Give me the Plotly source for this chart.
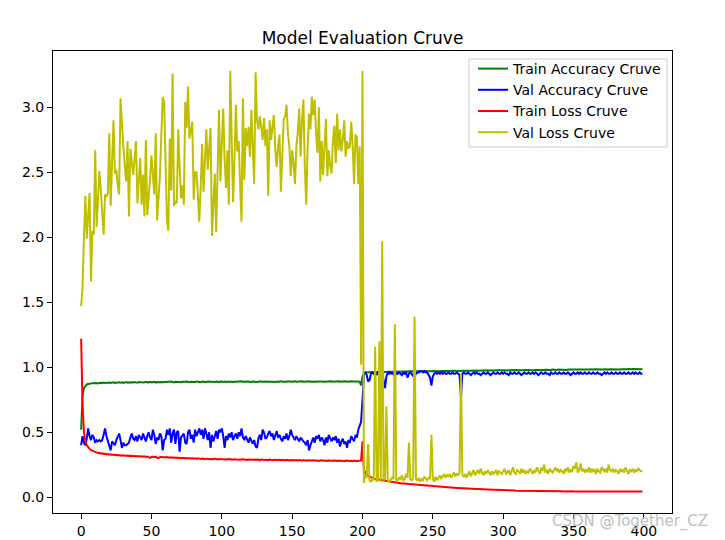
import plotly.graph_objects as go

train_acc = [
    0.52,0.78,0.84,0.86,0.868,0.872,0.875,0.874,0.878,0.877,0.880,0.879,0.876,0.881,0.880,0.878,0.882,0.879,0.881,0.880,
    0.883,0.879,0.882,0.884,0.880,0.883,0.881,0.885,0.882,0.884,0.880,0.883,0.886,0.882,0.884,0.881,0.885,0.883,0.887,0.884,
    0.882,0.886,0.884,0.887,0.883,0.885,0.888,0.884,0.886,0.883,0.887,0.885,0.889,0.884,0.886,0.888,0.885,0.887,0.884,0.889,
    0.886,0.888,0.885,0.887,0.890,0.886,0.884,0.888,0.886,0.889,0.887,0.885,0.889,0.886,0.888,0.890,0.887,0.885,0.889,0.887,
    0.888,0.886,0.890,0.887,0.889,0.885,0.888,0.890,0.886,0.889,0.887,0.891,0.888,0.886,0.889,0.887,0.890,0.888,0.886,0.890,
    0.887,0.889,0.891,0.886,0.888,0.890,0.887,0.889,0.886,0.891,0.888,0.890,0.887,0.889,0.892,0.888,0.890,0.887,0.889,0.891,
    0.888,0.886,0.890,0.888,0.891,0.887,0.889,0.892,0.888,0.890,0.887,0.889,0.891,0.888,0.890,0.892,0.889,0.887,0.891,0.889,
    0.890,0.888,0.892,0.889,0.891,0.887,0.890,0.892,0.889,0.891,0.888,0.890,0.893,0.889,0.891,0.888,0.890,0.892,0.889,0.891,
    0.888,0.890,0.892,0.889,0.891,0.893,0.890,0.888,0.892,0.890,0.891,0.889,0.892,0.890,0.888,0.891,0.893,0.890,0.892,0.889,
    0.891,0.893,0.890,0.892,0.889,0.891,0.893,0.890,0.892,0.889,0.891,0.890,0.893,0.891,0.889,0.892,0.890,0.891,0.888,0.86,
    0.93,0.952,0.958,0.960,0.962,0.961,0.963,0.962,0.964,0.963,0.965,0.964,0.963,0.965,0.964,0.966,0.965,0.964,0.966,0.965,
    0.967,0.966,0.965,0.967,0.966,0.968,0.967,0.966,0.968,0.967,0.969,0.968,0.967,0.969,0.968,0.967,0.969,0.970,0.968,0.969,
    0.970,0.969,0.968,0.970,0.969,0.971,0.970,0.969,0.971,0.970,0.972,0.971,0.970,0.972,0.971,0.970,0.972,0.973,0.971,0.972,
    0.973,0.972,0.971,0.973,0.972,0.974,0.973,0.972,0.974,0.973,0.972,0.974,0.975,0.973,0.974,0.975,0.974,0.973,0.975,0.974,
    0.975,0.976,0.974,0.975,0.976,0.975,0.974,0.976,0.975,0.977,0.976,0.975,0.977,0.976,0.975,0.977,0.978,0.976,0.977,0.976,
    0.977,0.978,0.976,0.977,0.978,0.977,0.979,0.978,0.977,0.978,0.979,0.978,0.977,0.979,0.978,0.980,0.979,0.978,0.979,0.978,
    0.980,0.979,0.978,0.980,0.979,0.980,0.981,0.979,0.980,0.979,0.981,0.980,0.979,0.981,0.980,0.982,0.980,0.981,0.980,0.982,
    0.981,0.980,0.982,0.981,0.982,0.980,0.982,0.981,0.983,0.982,0.981,0.982,0.983,0.981,0.982,0.983,0.982,0.981,0.983,0.982,
    0.983,0.982,0.984,0.982,0.983,0.984,0.983,0.982,0.984,0.983,0.984,0.983,0.985,0.983,0.984,0.983,0.985,0.984,0.983,0.985,
    0.984,0.985,0.984,0.983,0.985,0.984,0.986,0.984,0.985,0.986,0.984,0.985,0.986,0.985,0.984,0.986,0.985,0.986,0.985,0.986,
]

val_acc = [
    0.40,0.47,0.42,0.40,0.45,0.53,0.47,0.44,0.48,0.46,0.42,0.44,0.43,0.44,0.43,0.44,0.48,0.53,0.47,0.43,
    0.40,0.36,0.43,0.41,0.40,0.44,0.47,0.49,0.44,0.38,0.42,0.40,0.40,0.41,0.42,0.46,0.49,0.45,0.44,0.47,
    0.43,0.48,0.46,0.44,0.49,0.46,0.43,0.47,0.50,0.46,0.44,0.52,0.48,0.41,0.46,0.44,0.49,0.47,0.36,0.44,
    0.45,0.52,0.48,0.53,0.42,0.49,0.52,0.41,0.50,0.51,0.35,0.46,0.48,0.49,0.42,0.41,0.50,0.52,0.45,0.48,
    0.42,0.52,0.47,0.50,0.53,0.48,0.52,0.45,0.53,0.49,0.44,0.50,0.38,0.48,0.43,0.47,0.51,0.45,0.52,0.50,
    0.53,0.47,0.38,0.47,0.44,0.49,0.46,0.50,0.44,0.47,0.49,0.45,0.50,0.47,0.53,0.46,0.44,0.47,0.45,0.42,
    0.46,0.43,0.41,0.44,0.39,0.38,0.45,0.48,0.44,0.52,0.50,0.45,0.46,0.49,0.51,0.47,0.49,0.44,0.48,0.51,
    0.46,0.48,0.45,0.43,0.47,0.45,0.49,0.44,0.47,0.52,0.48,0.46,0.44,0.47,0.45,0.43,0.46,0.44,0.43,0.42,
    0.40,0.44,0.36,0.40,0.44,0.46,0.42,0.47,0.45,0.48,0.43,0.46,0.44,0.40,0.46,0.42,0.48,0.45,0.43,0.46,
    0.44,0.47,0.42,0.45,0.39,0.43,0.45,0.41,0.43,0.38,0.44,0.42,0.47,0.45,0.43,0.48,0.46,0.52,0.55,0.58,
    0.75,0.95,0.96,0.94,0.89,0.90,0.95,0.96,0.95,0.96,0.94,0.96,0.95,0.93,0.96,0.90,0.84,0.93,0.96,0.95,
    0.96,0.95,0.96,0.93,0.96,0.95,0.96,0.95,0.94,0.96,0.95,0.96,0.92,0.95,0.96,0.95,0.93,0.96,0.95,0.96,
    0.96,0.97,0.97,0.96,0.97,0.96,0.96,0.94,0.92,0.86,0.93,0.95,0.96,0.95,0.96,0.95,0.96,0.95,0.96,0.95,
    0.95,0.96,0.95,0.95,0.96,0.95,0.95,0.96,0.95,0.94,0.77,0.95,0.96,0.95,0.95,0.96,0.95,0.94,0.95,0.96,
    0.95,0.96,0.95,0.95,0.94,0.95,0.96,0.95,0.95,0.96,0.95,0.94,0.95,0.96,0.95,0.95,0.96,0.95,0.95,0.96,
    0.95,0.96,0.95,0.95,0.94,0.96,0.95,0.95,0.96,0.95,0.95,0.96,0.95,0.94,0.95,0.96,0.95,0.95,0.96,0.95,
    0.95,0.96,0.95,0.96,0.95,0.94,0.95,0.96,0.95,0.95,0.96,0.95,0.95,0.94,0.96,0.95,0.95,0.96,0.95,0.95,
    0.96,0.95,0.95,0.96,0.95,0.95,0.96,0.95,0.94,0.95,0.96,0.95,0.95,0.96,0.95,0.96,0.95,0.95,0.96,0.95,
    0.95,0.96,0.95,0.95,0.96,0.95,0.95,0.96,0.95,0.95,0.94,0.95,0.96,0.95,0.96,0.95,0.95,0.96,0.95,0.95,
    0.96,0.95,0.95,0.96,0.95,0.95,0.96,0.95,0.95,0.96,0.95,0.95,0.96,0.95,0.96,0.95,0.95,0.96,0.95,0.95,
]

train_loss = [
    1.22,0.72,0.50,0.43,0.40,0.38,0.372,0.363,0.358,0.352,0.348,0.345,0.340,0.342,0.336,0.338,0.333,0.335,0.330,0.332,
    0.328,0.331,0.326,0.329,0.324,0.327,0.322,0.325,0.320,0.323,0.319,0.322,0.318,0.321,0.317,0.320,0.316,0.319,0.315,0.318,
    0.314,0.317,0.313,0.316,0.312,0.315,0.311,0.314,0.305,0.303,0.310,0.313,0.309,0.312,0.304,0.302,0.309,0.312,0.307,0.310,
    0.306,0.309,0.305,0.308,0.304,0.307,0.303,0.306,0.302,0.305,0.301,0.304,0.300,0.303,0.299,0.302,0.298,0.301,0.297,0.300,
    0.296,0.299,0.295,0.300,0.297,0.294,0.298,0.295,0.293,0.297,0.294,0.296,0.292,0.295,0.293,0.297,0.292,0.294,0.291,0.295,
    0.292,0.294,0.290,0.293,0.291,0.295,0.290,0.292,0.289,0.293,0.290,0.292,0.288,0.291,0.289,0.293,0.288,0.290,0.287,0.291,
    0.289,0.292,0.288,0.290,0.287,0.291,0.289,0.286,0.290,0.288,0.291,0.287,0.289,0.286,0.290,0.288,0.285,0.289,0.287,0.290,
    0.286,0.288,0.285,0.289,0.287,0.284,0.288,0.286,0.283,0.287,0.285,0.288,0.284,0.286,0.283,0.287,0.285,0.282,0.286,0.284,
    0.281,0.285,0.283,0.286,0.282,0.284,0.281,0.285,0.283,0.280,0.284,0.282,0.285,0.281,0.283,0.280,0.284,0.282,0.279,0.283,
    0.281,0.284,0.280,0.282,0.279,0.283,0.281,0.278,0.282,0.280,0.283,0.279,0.281,0.278,0.282,0.280,0.277,0.281,0.279,0.282,
    0.43,0.21,0.19,0.175,0.165,0.158,0.152,0.148,0.145,0.141,0.139,0.136,0.133,0.131,0.129,0.127,0.125,0.123,0.121,0.120,
    0.118,0.116,0.115,0.113,0.112,0.110,0.109,0.108,0.106,0.105,0.104,0.103,0.101,0.100,0.099,0.098,0.097,0.096,0.095,0.094,
    0.093,0.092,0.091,0.090,0.089,0.088,0.087,0.086,0.085,0.085,0.084,0.083,0.082,0.081,0.080,0.080,0.079,0.078,0.077,0.077,
    0.076,0.075,0.075,0.074,0.073,0.073,0.072,0.071,0.071,0.070,0.069,0.069,0.068,0.068,0.067,0.067,0.066,0.065,0.065,0.064,
    0.064,0.063,0.063,0.062,0.062,0.061,0.061,0.060,0.060,0.059,0.059,0.058,0.058,0.057,0.057,0.057,0.056,0.056,0.055,0.055,
    0.055,0.054,0.054,0.053,0.053,0.053,0.052,0.052,0.052,0.051,0.051,0.051,0.050,0.050,0.050,0.049,0.049,0.049,0.049,0.048,
    0.048,0.048,0.048,0.048,0.047,0.047,0.047,0.047,0.047,0.047,0.047,0.046,0.046,0.046,0.046,0.046,0.046,0.046,0.046,0.046,
    0.046,0.046,0.046,0.045,0.046,0.045,0.046,0.045,0.045,0.046,0.045,0.045,0.045,0.046,0.045,0.045,0.045,0.044,0.045,0.045,
    0.045,0.044,0.045,0.045,0.044,0.045,0.045,0.044,0.045,0.044,0.045,0.044,0.045,0.044,0.044,0.045,0.044,0.045,0.044,0.044,
    0.045,0.044,0.044,0.045,0.044,0.044,0.045,0.044,0.044,0.045,0.044,0.044,0.045,0.044,0.044,0.045,0.044,0.044,0.045,0.044,
]

val_loss = [
    1.47,1.62,2.00,2.32,1.99,2.22,2.34,1.66,2.05,2.02,2.67,2.08,2.30,2.51,2.36,2.20,2.02,2.33,2.31,2.34,
    2.80,2.24,2.55,2.90,2.49,2.52,2.40,2.33,3.07,2.85,2.70,2.55,2.43,2.74,2.16,2.68,2.60,2.48,2.60,2.74,
    2.26,2.45,2.61,2.25,2.48,2.16,2.75,2.17,2.36,2.45,2.63,2.50,2.33,2.80,2.13,2.30,2.47,2.78,3.08,3.04,
    2.55,2.13,2.05,2.76,2.36,3.26,2.24,2.28,2.26,2.83,2.55,2.30,2.40,2.25,3.04,2.84,3.16,2.76,2.82,2.89,
    2.29,2.50,2.50,2.30,2.12,2.40,2.72,2.35,2.60,2.83,2.52,2.65,2.84,2.01,2.30,2.49,2.04,2.60,2.98,2.43,
    2.75,2.99,2.60,2.38,2.67,2.25,3.28,2.70,2.27,2.60,3.02,2.66,2.74,2.40,2.12,3.07,2.44,2.84,2.70,2.85,
    2.62,2.98,2.75,2.41,3.27,2.90,2.83,2.93,2.85,2.75,2.92,2.70,2.83,2.32,2.90,2.75,2.85,2.94,2.67,2.54,
    2.70,2.79,2.35,2.60,2.91,2.93,3.02,2.80,2.70,2.47,2.67,2.57,2.41,2.70,2.81,2.99,2.62,2.90,3.06,2.54,
    2.25,2.70,2.95,2.83,3.08,2.94,3.06,2.80,2.65,3.00,2.43,2.74,2.48,2.70,2.91,2.47,2.67,2.55,2.49,2.75,
    2.86,2.57,2.95,2.67,2.83,2.66,2.75,2.90,2.62,2.74,2.68,2.70,2.89,2.70,2.41,2.79,2.77,2.41,2.70,1.02,
    3.28,0.11,0.18,0.15,0.41,0.13,0.12,0.14,0.13,1.16,0.12,0.14,1.20,0.12,1.97,0.13,0.14,0.70,0.13,0.12,
    0.14,0.15,0.14,1.33,0.12,0.13,0.15,0.14,0.17,0.13,0.14,0.18,0.15,0.42,0.14,0.13,0.15,1.39,0.14,0.13,
    0.15,0.12,0.14,0.13,0.16,0.14,0.13,0.15,0.14,0.48,0.14,0.12,0.16,0.13,0.15,0.17,0.14,0.16,0.18,0.15,
    0.17,0.16,0.18,0.15,0.17,0.19,0.16,0.18,0.17,0.19,0.95,0.17,0.16,0.18,0.15,0.17,0.20,0.16,0.18,0.21,
    0.17,0.19,0.21,0.18,0.22,0.19,0.17,0.20,0.18,0.21,0.19,0.17,0.20,0.18,0.19,0.21,0.17,0.20,0.19,0.18,
    0.20,0.22,0.18,0.19,0.21,0.17,0.20,0.23,0.19,0.18,0.21,0.20,0.18,0.22,0.19,0.21,0.18,0.20,0.19,0.22,
    0.20,0.18,0.21,0.19,0.23,0.20,0.18,0.22,0.21,0.25,0.19,0.21,0.18,0.22,0.20,0.19,0.21,0.23,0.20,0.22,
    0.19,0.21,0.20,0.18,0.22,0.20,0.23,0.19,0.21,0.20,0.24,0.22,0.27,0.19,0.21,0.26,0.20,0.22,0.19,0.21,
    0.20,0.23,0.19,0.22,0.20,0.21,0.18,0.22,0.20,0.19,0.23,0.21,0.20,0.22,0.19,0.25,0.21,0.20,0.22,0.19,
    0.21,0.20,0.18,0.22,0.20,0.21,0.19,0.23,0.20,0.18,0.21,0.20,0.22,0.19,0.21,0.20,0.22,0.21,0.20,0.20,
]

series_names = ["Train Accuracy Cruve", "Val Accuracy Cruve", "Train Loss Cruve", "Val Loss Cruve"]
series_values = [train_acc, val_acc, train_loss, val_loss]
series_colors = ["#008000", "#0000ff", "#ff0000", "#bfbf00"]

x_ticks = [0, 50, 100, 150, 200, 250, 300, 350, 400]
y_ticks = [0.0, 0.5, 1.0, 1.5, 2.0, 2.5, 3.0]

fig = go.Figure()
for name, vals, color in zip(series_names, series_values, series_colors):
    fig.add_trace(go.Scatter(
        x=list(range(len(vals))), y=vals, mode="lines", name=name,
        line=dict(color=color, width=2),
    ))

axis_common = dict(
    showline=True, linecolor="black", linewidth=1, mirror=True,
    ticks="outside", ticklen=5, tickwidth=1, tickcolor="black",
    showgrid=False, zeroline=False, automargin=False,
    tickfont=dict(size=14, color="black"),
)

# plot area in pixels: left 53, right 672, top 51, bottom 513
PW, PH = 619, 462

def px_x(px):
    return (px - 53) / PW

def px_y(py):
    return (513 - py) / PH

fig.update_layout(
    width=725, height=540,
    margin=dict(l=53, r=53, t=51, b=27, autoexpand=False),
    paper_bgcolor="white", plot_bgcolor="white",
    font=dict(family="DejaVu Sans", size=14, color="black"),
    title=dict(text="Model Evaluation Cruve", x=0.5, xref="paper", xanchor="center",
               y=1 - 38 / 540, yref="container", yanchor="middle",
               font=dict(size=17, color="black"), automargin=False),
    xaxis=dict(range=[-20, 420], tickvals=x_ticks, **axis_common),
    yaxis=dict(range=[-0.121, 3.433], tickvals=y_ticks, tickformat=".1f", **axis_common),
    legend=dict(x=px_x(667), y=px_y(53), xanchor="right", yanchor="top",
                bgcolor="rgba(0,0,0,0)", borderwidth=0,
                font=dict(size=14, color="black"), itemwidth=30, tracegroupgap=0),
    showlegend=True,
    shapes=[dict(type="rect", xref="paper", yref="paper",
                 x0=px_x(469), x1=px_x(667), y0=px_y(147), y1=px_y(59),
                 line=dict(color="#cccccc", width=1), fillcolor="rgba(255,255,255,0.8)",
                 layer="above")],
    annotations=[dict(text="CSDN @Together_CZ", xref="paper", yref="paper",
                      x=px_x(710), y=px_y(521), xanchor="right", yanchor="middle",
                      showarrow=False, font=dict(size=15, color="#c0c0c0"))],
)

fig.write_html("out.html")
